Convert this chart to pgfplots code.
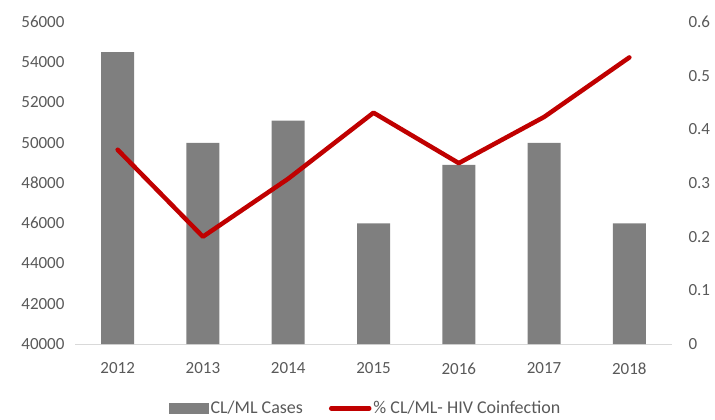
\documentclass[border=0pt]{standalone}
\usepackage{fontspec}
\setmainfont{Carlito}
\usepackage{pgfplots}
\pgfplotsset{compat=1.18}
\definecolor{barGray}{RGB}{127,127,127}
\definecolor{lineRed}{RGB}{192,0,0}
\definecolor{txtGray}{RGB}{89,89,89}
\definecolor{axGray}{RGB}{217,217,217}

\begin{document}
\begin{tikzpicture}
\pgfplotsset{
  every axis/.append style={
    scale only axis, width=597pt, height=322pt,
    xmin=-0.5, xmax=6.5,
    font=\fontsize{17}{20}\selectfont,
    tick label style={text=txtGray, font=\fontsize{17}{20}\selectfont},
    major tick length=0pt,
    /pgf/number format/assume math mode=true,
  }
}
% cases (left axis)
\begin{axis}[name=ax1,
  ymin=40000, ymax=56000, ytick distance=2000,
  axis x line*=bottom, axis y line*=left,
  x axis line style={draw=axGray, line width=1pt, -},
  y axis line style={draw=none},
  xtick={0,1,2,3,4,5,6},
  xticklabels={2012,2013,2014,2015,2016,2017,2018},
  scaled y ticks=false,
  yticklabel style={/pgf/number format/1000 sep={}, xshift=-7pt},
  xticklabel style={yshift=-15pt},
]
\addplot[ybar, bar width=33pt, fill=barGray, draw=none] coordinates {
  (0,54500) (1,50000) (2,51100) (3,46000) (4,48900) (5,50000) (6,46000)};
\end{axis}
% coinfection (right axis)
\begin{axis}[
  ymin=0, ymax=0.6, ytick={0,0.1,0.2,0.3,0.4,0.5,0.6},
  axis x line=none, axis y line*=right, xtick=\empty,
  y axis line style={draw=none},
  yticklabel style={xshift=13pt},
  legend columns=2,
  legend style={draw=none, fill=none, at={(0.487,-0.2)}, anchor=center,
    font=\fontsize{18}{21}\selectfont, text=txtGray,
    /tikz/every even column/.append style={column sep=24pt}},
]
\addlegendimage{legend image code/.code={\fill[barGray] (0pt,-5pt) rectangle (39pt,5pt);}}
\addlegendentry{CL/ML Cases}
\addplot[lineRed, line width=4.5pt, line join=round, line cap=round,
  legend image code/.code={\draw[lineRed, line width=4.5pt, line cap=round] (2pt,0pt) -- (40pt,0pt);}] coordinates {
  (0,0.362) (1,0.200) (2,0.308) (3,0.431) (4,0.337) (5,0.423) (6,0.534)};
\addlegendentry{\% CL/ML- HIV Coinfection}
\end{axis}
\path ([xshift=-75pt,yshift=-73pt]ax1.south west) rectangle ([xshift=43pt,yshift=22pt]ax1.north east);
\end{tikzpicture}
\end{document}
